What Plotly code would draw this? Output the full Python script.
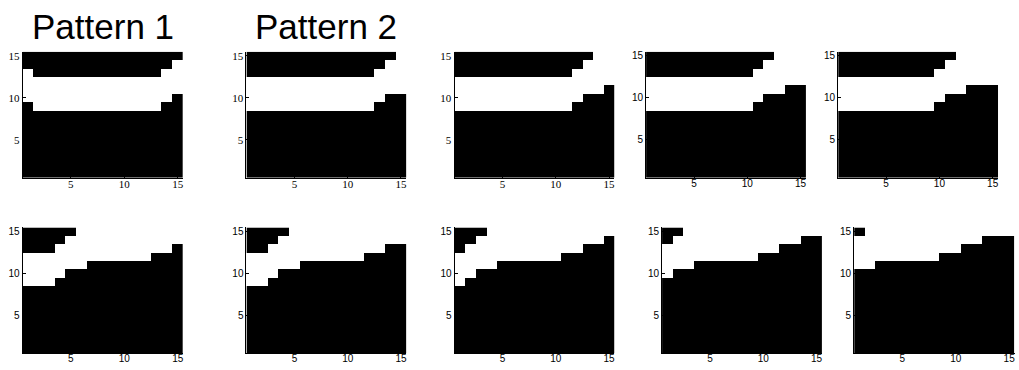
import plotly.graph_objects as go

# White band per column (cols 1..15): lowest and highest white row
p1_bottom = [10, 9, 9, 9, 9, 9, 9, 9, 9, 9, 9, 9, 9, 10, 11]
p1_top    = [13, 12, 12, 12, 12, 12, 12, 12, 12, 12, 12, 12, 12, 13, 14]
p2_bottom = [9, 9, 9, 9, 9, 9, 9, 9, 9, 9, 9, 9, 10, 11, 11]
p2_top    = [12, 12, 12, 12, 12, 12, 12, 12, 12, 12, 12, 12, 13, 14, 15]
p3_bottom = [9, 9, 9, 9, 9, 9, 9, 9, 9, 9, 9, 10, 11, 11, 12]
p3_top    = [12, 12, 12, 12, 12, 12, 12, 12, 12, 12, 12, 13, 14, 15, 15]
p4_bottom = [9, 9, 9, 9, 9, 9, 9, 9, 9, 9, 10, 11, 11, 12, 12]
p4_top    = [12, 12, 12, 12, 12, 12, 12, 12, 12, 12, 13, 14, 15, 15, 15]
p5_bottom = [9, 9, 9, 9, 9, 9, 9, 9, 9, 10, 11, 11, 12, 12, 12]
p5_top    = [12, 12, 12, 12, 12, 12, 12, 12, 12, 13, 14, 15, 15, 15, 15]
p6_bottom = [9, 9, 9, 10, 11, 11, 12, 12, 12, 12, 12, 12, 13, 13, 14]
p6_top    = [12, 12, 12, 13, 14, 15, 15, 15, 15, 15, 15, 15, 15, 15, 15]
p7_bottom = [9, 9, 10, 11, 11, 12, 12, 12, 12, 12, 12, 13, 13, 14, 14]
p7_top    = [12, 12, 13, 14, 15, 15, 15, 15, 15, 15, 15, 15, 15, 15, 15]
p8_bottom = [9, 10, 11, 11, 12, 12, 12, 12, 12, 12, 13, 13, 14, 14, 15]
p8_top    = [12, 13, 14, 15, 15, 15, 15, 15, 15, 15, 15, 15, 15, 15, 15]
p9_bottom = [10, 11, 11, 12, 12, 12, 12, 12, 12, 13, 13, 14, 14, 15, 15]
p9_top    = [13, 14, 15, 15, 15, 15, 15, 15, 15, 15, 15, 15, 15, 15, 15]
p10_bottom = [11, 11, 12, 12, 12, 12, 12, 12, 13, 13, 14, 14, 15, 15, 15]
p10_top    = [14, 15, 15, 15, 15, 15, 15, 15, 15, 15, 15, 15, 15, 15, 15]

panels = [(p1_bottom, p1_top), (p2_bottom, p2_top), (p3_bottom, p3_top),
          (p4_bottom, p4_top), (p5_bottom, p5_top), (p6_bottom, p6_top),
          (p7_bottom, p7_top), (p8_bottom, p8_top), (p9_bottom, p9_top),
          (p10_bottom, p10_top)]

cols = list(range(1, 16))
rows = list(range(1, 16))
tick_vals = [5, 10, 15]
titles = ["Pattern 1", "Pattern 2"]

W, H = 1019, 370
# pixel boxes (left, right, top, bottom)
boxes = [
    (22.7, 183.3, 50, 176.7), (246.7, 406.7, 50, 176.7), (455, 615, 50, 176.7),
    (646.7, 806.7, 50, 176.7), (839, 999, 50, 176.7),
    (22.7, 183.3, 226.7, 353.3), (246.7, 406.7, 226.7, 353.3), (455, 615, 226.7, 353.3),
    (662.7, 822.7, 226.7, 353.3), (855, 1015.5, 226.7, 353.3),
]
serif_panels = {0, 1, 2}

fig = go.Figure()
for i, ((bot, top), (l, r, t, b)) in enumerate(zip(panels, boxes)):
    z = [[1 if bot[c] <= rr <= top[c] else 0 for c in range(15)] for rr in rows]
    xa = "x" if i == 0 else f"x{i+1}"
    ya = "y" if i == 0 else f"y{i+1}"
    fig.add_trace(go.Heatmap(z=z, x=cols, y=rows, xaxis=xa, yaxis=ya,
                             colorscale=[[0, "black"], [1, "white"]],
                             zmin=0, zmax=1, showscale=False, hoverinfo="skip"))
    font = dict(family="Liberation Serif", size=11, color="black") if i in serif_panels \
        else dict(family="Liberation Sans", size=10, color="black")
    xkey = "xaxis" if i == 0 else f"xaxis{i+1}"
    ykey = "yaxis" if i == 0 else f"yaxis{i+1}"
    fig.update_layout(**{
        xkey: dict(domain=[l / W, r / W], range=[0.5, 15.5], anchor=ya,
                   tickvals=tick_vals, ticks="inside", ticklen=3, tickcolor="black",
                   showgrid=False, zeroline=False, showline=True, linecolor="black",
                   linewidth=1, mirror=False, tickfont=font, fixedrange=True,
                   ticklabelstandoff=-4),
        ykey: dict(domain=[1 - b / H, 1 - t / H], range=[0.5, 15.5], anchor=xa,
                   tickvals=tick_vals, ticks="inside", ticklen=3, tickcolor="black",
                   showgrid=False, zeroline=False, showline=True, linecolor="black",
                   linewidth=1, mirror=False, tickfont=font, fixedrange=True),
    })

for i, title in enumerate(titles):
    l, r, t, b = boxes[i]
    fig.add_annotation(text=title, x=(l + r) / 2 / W, y=1 - 25 / H, xref="paper", yref="paper",
                       xanchor="center", yanchor="middle", showarrow=False,
                       font=dict(family="Liberation Sans", size=35, color="black"))

fig.update_layout(width=W, height=H, margin=dict(l=0, r=0, t=0, b=0),
                  paper_bgcolor="white", plot_bgcolor="white", showlegend=False)
fig.write_html("out.html", config={"displayModeBar": False},
               post_script="document.body.style.margin='0';")
